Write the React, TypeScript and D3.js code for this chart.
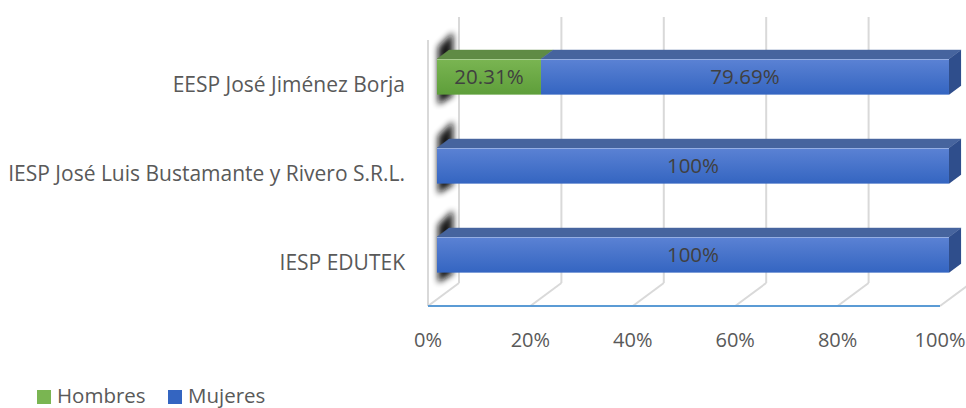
import React from "react";
import * as d3 from "d3";

const categories = [
  "EESP José Jiménez Borja",
  "IESP José Luis Bustamante y Rivero S.R.L.",
  "IESP EDUTEK",
];
const seriesNames = ["Hombres", "Mujeres"];
const hombres = [20.31, 0, 0];
const mujeres = [79.69, 100, 100];
const tickValues = [0, 20, 40, 60, 80, 100];

const W = 966;
const H = 408;
const FONT = "'Open Sans', sans-serif";
const TXT = "#595959";

const colors = {
  Hombres: { top: "#7ab552", bottom: "#5e9e3a", lid: "#5f8b45", side: "#4f7a37" },
  Mujeres: { top: "#5b82d4", bottom: "#3465c1", lid: "#46649e", side: "#2f4e8c" },
};

export default function App() {
  const x = d3.scaleLinear().domain([0, 100]).range([428, 940]);
  const y = d3
    .scaleBand<string>()
    .domain(categories)
    .range([39, 306])
    .paddingInner(0.6)
    .paddingOuter(0.3);
  const DX = 31;
  const DY = -23;
  const off = (d: number) => [DX * d, DY * d];
  const f1 = 0.29;
  const f2 = 0.68;
  const [ax, ay] = off(f1);
  const [bx, by] = off(f2);
  const bw = y.bandwidth();
  const floorY = 306;
  const wallTop = 40;

  const stacked = d3.stack<any>().keys(seriesNames)(
    categories.map((c, i) => ({ cat: c, Hombres: hombres[i], Mujeres: mujeres[i] }))
  );

  const pts = (arr: number[][]) => arr.map((p) => p.join(",")).join(" ");

  return (
    <svg width={W} height={H} style={{ position: "absolute", left: 0, top: 0 }}>
      <defs>
        <filter id="blur" x="-100%" y="-100%" width="300%" height="300%">
          <feGaussianBlur stdDeviation="3" />
        </filter>
        {seriesNames.map((s) => (
          <linearGradient key={s} id={"g" + s} x1="0" y1="0" x2="0" y2="1">
            <stop offset="0" stopColor={(colors as any)[s].top} />
            <stop offset="1" stopColor={(colors as any)[s].bottom} />
          </linearGradient>
        ))}
      </defs>
      <rect width={W} height={H} fill="#fff" />
      {/* side wall front edge */}
      <line x1={x(0)} x2={x(0)} y1={wallTop} y2={floorY} stroke="#d9d9d9" strokeWidth={2} />
      {/* back gridlines */}
      {tickValues.map((t) => (
        <line
          key={"bg" + t}
          x1={x(t) + DX}
          x2={x(t) + DX}
          y1={wallTop + DY}
          y2={floorY + DY}
          stroke="#d9d9d9"
          strokeWidth={2}
        />
      ))}
      {/* floor diagonals */}
      {tickValues.map((t) => (
        <line
          key={"fd" + t}
          x1={x(t)}
          x2={x(t) + DX}
          y1={floorY}
          y2={floorY + DY}
          stroke="#d9d9d9"
          strokeWidth={2}
        />
      ))}
      {/* front axis line */}
      <line x1={x(0)} x2={x(100)} y1={floorY} y2={floorY} stroke="#5b9bd5" strokeWidth={2} />
      {/* wall shadows */}
      {categories.map((c) => {
        const y0 = y(c)!;
        return (
          <polygon
            key={"sh" + c}
            points={pts([
              [x(0) + ax + 1, y0 + ay - 12],
              [x(0) + bx + 4, y0 + by - 18],
              [x(0) + bx + 4, y0 + by + bw + 10],
              [x(0) + ax + 1, y0 + ay + bw + 10],
            ])}
            fill="#111"
            opacity={0.95}
            filter="url(#blur)"
          />
        );
      })}
      {/* bars */}
      {categories.map((c, i) => {
        const y0 = y(c)!;
        const segs = stacked
          .map((layer) => ({ key: layer.key, s: layer[i][0], e: layer[i][1] }))
          .filter((d) => d.e - d.s > 0);
        const last = segs[segs.length - 1];
        return (
          <g key={"bar" + c}>
            {segs.map((d) => {
              const col = (colors as any)[d.key];
              const xs = x(d.s);
              const xe = x(d.e);
              return (
                <g key={d.key}>
                  <polygon
                    points={pts([
                      [xs + ax, y0 + ay],
                      [xe + ax, y0 + ay],
                      [xe + bx, y0 + by],
                      [xs + bx, y0 + by],
                    ])}
                    fill={col.lid}
                    stroke={col.lid}
                    strokeWidth={0.5}
                  />
                  <rect
                    x={xs + ax}
                    y={y0 + ay}
                    width={xe - xs}
                    height={bw}
                    fill={`url(#g${d.key})`}
                  />
                  <line
                    x1={xs + ax}
                    x2={xe + ax}
                    y1={y0 + ay + 0.5}
                    y2={y0 + ay + 0.5}
                    stroke="#ffffff"
                    strokeOpacity={0.35}
                    strokeWidth={1}
                  />
                </g>
              );
            })}
            {last && (
              <polygon
                points={pts([
                  [x(last.e) + ax, y0 + ay],
                  [x(last.e) + bx, y0 + by],
                  [x(last.e) + bx, y0 + by + bw],
                  [x(last.e) + ax, y0 + ay + bw],
                ])}
                fill={(colors as any)[last.key].side}
              />
            )}
            {segs.map((d) => {
              const v = d.e - d.s;
              const label = Number.isInteger(v) ? `${v}%` : `${v.toFixed(2)}%`;
              return (
                <text
                  key={"lb" + d.key}
                  x={(x(d.s) + x(d.e)) / 2 + ax}
                  y={y0 + ay + bw / 2}
                  dy="0.36em"
                  textAnchor="middle"
                  fontFamily={FONT}
                  fontSize={20.5}
                  fill="#404040"
                >
                  {label}
                </text>
              );
            })}
          </g>
        );
      })}
      {/* category labels */}
      {categories.map((c) => (
        <text
          key={"cl" + c}
          x={405}
          y={y(c)! + bw / 2 + 1}
          dy="0.36em"
          textAnchor="end"
          fontFamily={FONT}
          fontSize={21}
          fill={TXT}
        >
          {c}
        </text>
      ))}
      {/* x tick labels */}
      {tickValues.map((t) => (
        <text
          key={"tk" + t}
          x={x(t)}
          y={340}
          dy="0.36em"
          textAnchor="middle"
          fontFamily={FONT}
          fontSize={20}
          fill={TXT}
        >
          {t}%
        </text>
      ))}
      {/* legend */}
      <rect x={37} y={390} width={14} height={14} fill={colors.Hombres.top} />
      <text x={57} y={403} fontFamily={FONT} fontSize={20.5} fill={TXT}>
        {seriesNames[0]}
      </text>
      <rect x={168} y={390} width={14} height={14} fill={colors.Mujeres.bottom} />
      <text x={188} y={403} fontFamily={FONT} fontSize={20.5} fill={TXT}>
        {seriesNames[1]}
      </text>
    </svg>
  );
}
